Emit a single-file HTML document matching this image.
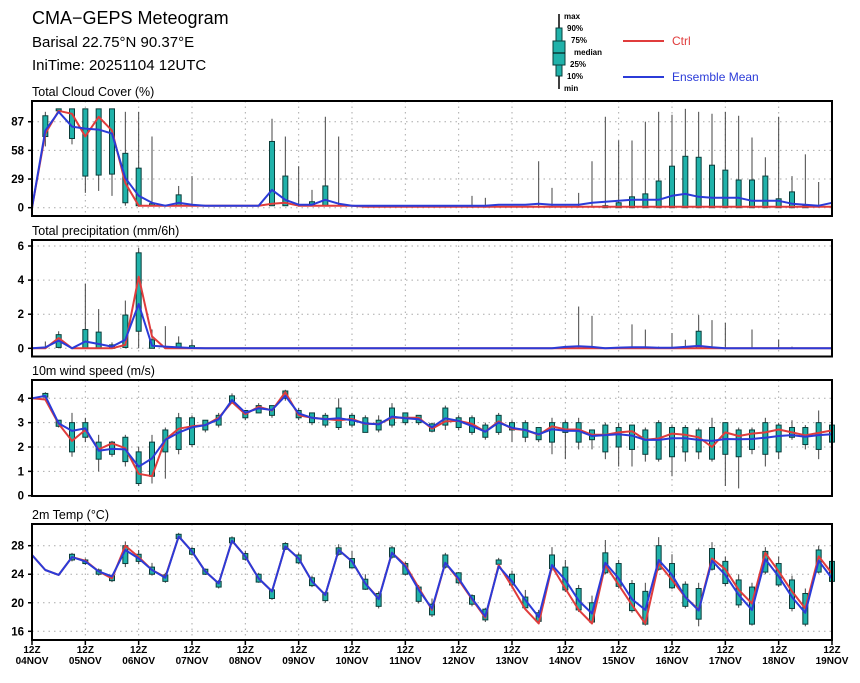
<!DOCTYPE html>
<html><head><meta charset="utf-8">
<style>
html,body{margin:0;padding:0;background:#fff;}
body{width:860px;height:678px;overflow:hidden;font-family:"Liberation Sans",sans-serif;}
svg text{font-family:"Liberation Sans",sans-serif;}
</style></head>
<body>
<svg id="chart" width="860" height="678" viewBox="0 0 860 678" xmlns="http://www.w3.org/2000/svg">
  <text x="32" y="24" font-size="18" fill="#000">CMA−GEPS Meteogram</text>
  <text x="32" y="47" font-size="15" fill="#000">Barisal 22.75°N 90.37°E</text>
  <text x="32" y="70" font-size="15" fill="#000">IniTime: 20251104 12UTC</text>
  <g>
    <line x1="559" y1="14" x2="559" y2="89" stroke="#000" stroke-width="1.5"/>
    <rect x="556" y="28" width="6" height="48" fill="#20b2aa" stroke="#0b3d3a"/>
    <rect x="553" y="41" width="12" height="24" fill="#20b2aa" stroke="#0b3d3a"/>
    <line x1="553" y1="53" x2="565" y2="53" stroke="#000"/>
    <g font-size="8" font-weight="bold" fill="#000">
      <text x="564" y="19">max</text><text x="567" y="31">90%</text><text x="571" y="43">75%</text>
      <text x="574" y="55">median</text><text x="570" y="67">25%</text><text x="567" y="79">10%</text><text x="564" y="91">min</text>
    </g>
    <line x1="623" y1="41" x2="664" y2="41" stroke="#e03c3c" stroke-width="2"/>
    <text x="672" y="45" font-size="12" fill="#e03c3c">Ctrl</text>
    <line x1="623" y1="77" x2="664" y2="77" stroke="#2b3bd8" stroke-width="2"/>
    <text x="672" y="81" font-size="12" fill="#2b3bd8">Ensemble Mean</text>
  </g>
</svg>
<script>
// ---- shared time axis ----
const dayLabels = ["04NOV","05NOV","06NOV","07NOV","08NOV","09NOV","10NOV","11NOV","12NOV","13NOV","14NOV","15NOV","16NOV","17NOV","18NOV","19NOV"];
const nSteps = 61; // 6-hourly steps

// ---- cloud cover (%) ----
const cloudTicks = [0,29,58,87];
const cloudCtrl = [0,75,98,95,72,92,78,25,2,2,2,2,2,2,2,2,2,2,4,5,2,2,2,2,2,1,1,1,1,1,1,1,1,1,1,1,1,1,1,1,1,1,1,1,1,1,1,1,1,1,1,1,1,1,1,1,1,1,1,1,1];
const cloudMean = [0,78,97,82,80,79,75,30,12,5,2,5,3,2,2,2,2,2,18,8,3,3,8,4,2,2,2,2,2,2,2,2,2,2,2,3,3,3,4,3,3,3,5,6,7,8,8,8,12,14,11,10,10,10,7,7,7,4,3,2,5];
const cloudMin = [0,62,97,64,15,17,12,2,2,2,2,2,2,2,2,2,2,2,2,2,2,2,2,2,2,2,2,2,2,2,2,2,2,0,0,0,0,0,0,0,0,0,0,0,0,0,0,0,0,0,0,0,0,0,0,0,0,0,0,0,0];
const cloudP25 = [0,72,98,70,32,33,34,5,2,2,2,2,2,2,2,2,2,2,2,2,2,2,2,2,2,2,2,2,2,2,2,2,2,0,0,0,0,0,0,0,0,0,0,0,0,0,0,0,0,0,0,0,0,0,0,0,0,0,0,0,0];
const cloudP75 = [0,93,100,100,100,100,100,55,40,4,2,13,2,2,2,2,2,2,67,32,2,6,22,2,2,2,2,2,2,2,2,2,2,0,0,0,0,0,0,0,0,0,0,2,5,11,14,27,42,52,51,43,38,28,28,32,9,16,2,0,0];
const cloudMax = [0,97,100,100,100,100,100,97,97,72,2,22,32,2,2,2,2,2,90,72,42,18,92,72,2,2,2,2,2,2,2,2,2,12,10,0,0,0,47,20,0,15,47,92,68,68,87,97,94,100,97,95,97,93,71,51,92,32,54,26,3];

// ---- precipitation (mm/6h) ----
const precTicks = [0,2,4,6];
const precCtrl = [0,0,0.6,0,0,0,0,0.2,4.2,0.7,0,0,0,0,0,0,0,0,0,0,0,0,0,0,0,0,0,0,0,0,0,0,0,0,0,0,0,0,0,0,0,0,0,0,0,0,0,0,0,0,0,0,0,0,0,0,0,0,0,0,0];
const precMean = [0,0.05,0.45,0,0.4,0.25,0.1,0.5,2.6,0.15,0.1,0.05,0.02,0,0,0,0,0,0,0,0,0,0,0,0,0,0,0,0,0,0,0,0,0,0,0,0,0,0,0,0.08,0.12,0.08,0,0.04,0.06,0.06,0.03,0.03,0.08,0.14,0.06,0,0,0,0,0,0,0,0,0];
const precMin = [0,0,0,0,0,0,0,0,0,0,0,0,0,0,0,0,0,0,0,0,0,0,0,0,0,0,0,0,0,0,0,0,0,0,0,0,0,0,0,0,0,0,0,0,0,0,0,0,0,0,0,0,0,0,0,0,0,0,0,0,0];
const precP25 = [0,0,0.05,0,0,0,0,0.05,1.0,0,0,0,0,0,0,0,0,0,0,0,0,0,0,0,0,0,0,0,0,0,0,0,0,0,0,0,0,0,0,0,0,0,0,0,0,0,0,0,0,0,0,0,0,0,0,0,0,0,0,0,0];
const precP75 = [0,0,0.8,0,1.1,0.95,0.2,1.95,5.6,0.5,0,0.3,0.15,0,0,0,0,0,0,0,0,0,0,0,0,0,0,0,0,0,0,0,0,0,0,0,0,0,0,0,0,0,0,0,0,0,0,0,0,0,1.0,0,0,0,0,0,0,0,0,0,0];
const precMax = [0,0.4,1.0,0,3.8,2.3,0.35,2.8,5.9,1.1,1.3,0.7,0.5,0,0,0,0,0,0,0,0,0,0,0,0,0,0,0,0,0,0,0,0,0,0,0,0,0,0,0,0,2.45,1.9,0,0,1.4,1.1,0.1,0.9,0.5,1.95,1.65,1.5,0,1.1,0,0.5,0.1,0,0,0];

// ---- 10m wind speed (m/s) ----
const windTicks = [0,1,2,3,4];
const windCtrl = [4.0,3.95,2.95,2.25,2.7,1.9,2.15,1.95,0.9,0.8,2.3,2.75,2.85,2.9,3.2,3.85,3.35,3.65,3.5,4.25,3.3,3.2,3.15,3.1,3.15,2.95,2.95,3.2,3.2,3.2,2.75,3.05,3.07,2.95,2.63,3.05,2.75,2.7,2.5,2.85,2.72,2.72,2.5,2.5,2.6,2.65,2.3,2.35,2.55,2.5,2.4,2.0,2.6,2.45,2.55,2.6,2.72,2.6,2.48,2.58,2.68];
const windMean = [4.0,4.1,2.97,2.66,2.77,1.85,1.92,1.9,1.19,1.53,2.29,2.59,2.81,2.9,3.14,3.93,3.41,3.59,3.52,4.1,3.38,3.2,3.14,3.18,3.1,2.97,2.93,3.25,3.18,3.14,2.81,3.18,3.07,2.86,2.63,3.0,2.79,2.7,2.52,2.73,2.67,2.66,2.45,2.49,2.52,2.47,2.29,2.29,2.36,2.36,2.29,2.25,2.33,2.32,2.33,2.38,2.45,2.49,2.42,2.49,2.52];
const windMin = [4.0,4.0,2.8,1.6,2.2,1.0,1.6,1.2,0.4,0.5,0.7,1.7,2.0,2.6,2.8,3.8,3.1,3.4,3.2,3.9,3.1,2.9,2.8,2.7,2.8,2.6,2.6,2.8,2.9,2.9,2.6,2.7,2.7,2.5,2.3,2.5,2.2,2.2,2.2,1.7,1.5,1.9,1.9,1.5,1.2,1.2,1.4,1.4,0.8,1.4,1.5,1.4,0.4,0.3,1.7,1.2,1.5,2.3,1.9,1.5,2.0];
const windP25 = [4.0,4.05,2.85,1.8,2.4,1.5,1.7,1.4,0.5,0.8,1.8,1.9,2.1,2.7,2.9,3.8,3.2,3.4,3.3,4.0,3.2,3.0,2.9,2.8,2.9,2.6,2.7,2.9,3.0,3.0,2.65,2.9,2.8,2.6,2.4,2.6,2.7,2.4,2.3,2.2,2.6,2.2,2.3,1.8,2.0,1.9,1.7,1.5,1.6,1.8,1.8,1.5,1.7,1.6,1.9,1.7,1.8,2.4,2.1,1.9,2.2];
const windP75 = [4.0,4.2,3.1,3.0,3.0,2.2,2.2,2.4,1.8,2.2,2.7,3.2,3.2,3.1,3.3,4.1,3.5,3.7,3.7,4.3,3.5,3.4,3.3,3.6,3.3,3.2,3.1,3.6,3.4,3.3,2.95,3.6,3.2,3.2,2.9,3.3,3.0,3.0,2.8,3.0,3.0,3.0,2.7,2.9,2.8,2.9,2.7,3.0,2.8,2.8,2.7,2.8,3.0,2.7,2.7,3.0,2.9,2.8,2.8,3.0,2.9];
const windMax = [4.0,4.25,3.1,3.4,3.2,2.5,2.25,2.5,2.0,2.5,2.8,3.4,3.3,3.1,3.4,4.2,3.5,3.8,3.7,4.35,3.6,3.4,3.4,4.0,3.4,3.3,3.3,3.8,3.4,3.3,3.0,3.7,3.3,3.3,3.0,3.4,3.1,3.1,2.8,3.2,3.1,3.2,2.7,3.0,3.0,2.9,2.8,3.1,2.9,2.9,2.8,3.2,3.0,2.8,2.8,3.2,3.0,3.1,2.9,3.5,2.9];

// ---- 2m temperature (°C) ----
const tempTicks = [16,20,24,28];
const tempCtrl = [26.7,24.6,23.9,26.4,25.9,24.4,23.4,28.0,26.4,24.6,23.6,29.3,27.2,24.4,22.7,28.7,26.5,23.4,21.6,27.9,26.2,23.0,21.1,27.4,25.8,22.7,20.6,27.0,25.3,22.1,19.0,25.6,23.2,20.5,17.9,25.3,22.3,19.1,17.1,25.1,22.0,19.0,17.1,25.3,22.5,19.7,17.1,25.5,23.2,20.8,19.0,26.2,24.7,21.8,19.9,27.0,24.4,21.6,19.2,26.5,24.1];
const tempMean = [26.7,24.6,23.9,26.4,25.8,24.4,23.7,27.4,26.2,24.6,23.5,29.3,27.2,24.4,22.7,28.7,26.5,23.4,21.6,27.9,26.2,23.0,21.1,27.4,25.8,22.7,20.5,27.0,25.1,21.8,19.2,25.6,23.4,20.6,18.1,25.1,23.0,20.4,18.0,25.3,23.2,20.3,18.5,25.6,23.4,20.5,19.0,26.0,23.9,20.8,18.9,25.9,23.9,21.1,19.0,26.1,23.7,20.8,18.6,25.9,23.4];
const tempMin = [26.7,24.6,23.9,25.8,25.3,23.8,22.9,25.0,25.4,23.8,22.8,28.9,26.6,23.9,22.0,28.2,25.9,22.8,20.4,27.4,25.4,22.2,20.0,26.6,24.8,21.8,19.2,26.2,23.8,19.9,18.0,24.8,22.6,19.5,17.3,25.2,22.0,19.2,17.1,24.5,21.5,18.7,17.0,24.0,22.0,18.6,16.8,24.5,21.9,19.2,16.7,24.5,22.3,19.3,16.8,24.0,22.2,18.8,16.7,24.1,22.8];
const tempP25 = [26.7,24.6,23.9,26.0,25.5,24.0,23.1,25.5,25.8,24.0,23.0,29.0,26.8,24.0,22.2,28.4,26.1,22.9,20.6,27.5,25.6,22.4,20.3,26.8,24.9,21.9,19.5,26.4,24.0,20.2,18.3,25.0,22.8,19.8,17.6,25.4,22.5,19.3,17.4,24.8,21.8,19.0,17.3,24.2,22.3,18.9,17.0,24.7,22.1,19.5,17.7,24.7,22.7,19.7,17.0,24.3,22.5,19.2,17.0,24.3,23.0];
const tempP75 = [26.7,24.6,23.9,26.8,26.0,24.6,23.8,28.0,26.8,25.0,23.9,29.6,27.6,24.7,23.0,29.1,26.9,24.0,21.8,28.3,26.7,23.5,21.4,27.7,26.2,23.3,21.3,27.7,25.5,22.2,19.8,26.7,24.2,21.0,19.1,26.0,24.0,20.8,18.6,26.7,25.0,22.0,20.0,27.0,25.5,22.7,21.6,28.0,25.5,22.6,22.0,27.6,25.8,23.2,22.2,27.2,25.5,23.2,21.3,27.4,25.8];
const tempMax = [26.7,24.6,23.9,27.0,26.2,24.8,24.0,28.6,27.4,25.6,24.2,29.8,27.8,24.8,23.2,29.3,27.3,24.2,22.0,28.5,27.0,23.8,21.6,28.2,27.3,24.0,21.6,28.0,25.8,22.5,20.6,27.0,24.3,21.2,19.3,26.3,24.5,21.8,19.0,27.8,26.0,22.5,21.0,28.8,26.0,23.2,22.8,29.2,26.8,23.0,22.8,28.5,26.5,24.0,22.8,27.8,26.5,23.8,22.0,28.0,26.2];

const svg = document.getElementById('chart');
const NS = 'http://www.w3.org/2000/svg';
const X0 = 32, X1 = 832;
function xAt(i){ return X0 + (X1 - X0) * i / (nSteps - 1); }
function mk(tag, attrs, parent){
  const e = document.createElementNS(NS, tag);
  for (const k in attrs) e.setAttribute(k, attrs[k]);
  (parent || svg).appendChild(e);
  return e;
}

function drawPanel(p){
  const yAt = v => p.y0 + (v - p.v0) * (p.y1 - p.y0) / (p.v1 - p.v0);
  const g = mk('g', {});
  
  
  const t = mk('text', {x: 32, y: p.top - 5, 'font-size': 12.5, fill: '#000'}, g);
  t.textContent = p.title;
  
  
  // grid
  for (let d = 1; d < 15; d++){
    const x = xAt(d * 4);
    const gl = mk('line', {x1: x, x2: x, y1: p.top, y2: p.bot, stroke: '#aaa', 'stroke-width': 1, 'stroke-dasharray': '1.5,4'}, g);
    
    
  }
  p.ticks.forEach(v => {
    const y = yAt(v);
    const hl = mk('line', {x1: X0, x2: X1, y1: y, y2: y, stroke: '#aaa', 'stroke-width': 1, 'stroke-dasharray': '1.5,4'}, g);
    
    
    mk('line', {x1: X0 - 4, x2: X0, y1: y, y2: y, stroke: '#000', 'stroke-width': 1.5}, g);
    const lb = mk('text', {x: X0 - 8, y: y + 4, 'font-size': 11.5, 'font-weight': 'bold', 'text-anchor': 'end', fill: '#000'}, g);
    lb.textContent = v;
    
    
  });
  // boxes
  for (let i = 0; i < nSteps; i++){
    const x = xAt(i);
    if (p.max[i] > p.min[i]){
      const w = mk('line', {x1: x, x2: x, y1: yAt(p.max[i]), y2: yAt(p.min[i]), stroke: '#444', 'stroke-width': 1}, g);
      
      
    }
    if (p.p75[i] > p.p25[i]){
      const yt = yAt(p.p75[i]), yb = yAt(p.p25[i]);
      const b = mk('rect', {x: x - 2.5, y: yt, width: 5, height: Math.max(1, yb - yt), fill: '#20b2aa', stroke: '#0b3d3a', 'stroke-width': 1}, g);
      
      
    }
  }
  // lines
  const mkLine = (arr, col, nm) => {
    const d = arr.map((v, i) => (i ? 'L' : 'M') + xAt(i).toFixed(1) + ',' + yAt(v).toFixed(1)).join('');
    const l = mk('path', {d: d, fill: 'none', stroke: col, 'stroke-width': 2, 'stroke-linejoin': 'round'}, g);
    
    
  };
  mkLine(p.ctrl, '#e03c3c', p.name + '-ctrl-line');
  mkLine(p.mean, '#2b3bd8', p.name + '-mean-line');
  const fr = mk('rect', {x: X0, y: p.top, width: X1 - X0, height: p.bot - p.top, fill: 'none', stroke: '#000', 'stroke-width': 2}, g);
  
  
}

drawPanel({name:'cloud', title:'Total Cloud Cover (%)', top:101, bot:216, v0:0, y0:207.7, v1:87, y1:121.7, ticks:cloudTicks,
  ctrl:cloudCtrl, mean:cloudMean, min:cloudMin, p25:cloudP25, p75:cloudP75, max:cloudMax});
drawPanel({name:'precip', title:'Total precipitation (mm/6h)', top:240, bot:356.5, v0:0, y0:348.3, v1:6, y1:246, ticks:precTicks,
  ctrl:precCtrl, mean:precMean, min:precMin, p25:precP25, p75:precP75, max:precMax});
drawPanel({name:'wind', title:'10m wind speed (m/s)', top:380, bot:496, v0:0, y0:495.7, v1:4, y1:398.3, ticks:windTicks,
  ctrl:windCtrl, mean:windMean, min:windMin, p25:windP25, p75:windP75, max:windMax});
drawPanel({name:'temp', title:'2m Temp (°C)', top:524, bot:640, v0:28, y0:545.7, v1:16, y1:631.3, ticks:tempTicks,
  ctrl:tempCtrl, mean:tempMean, min:tempMin, p25:tempP25, p75:tempP75, max:tempMax});

// x-axis labels
dayLabels.forEach((lab, d) => {
  const x = xAt(d * 4);
  mk('line', {x1: x, x2: x, y1: 640, y2: 645, stroke: '#000', 'stroke-width': 1.5});
  const a = mk('text', {x: x, y: 653, 'font-size': 10, 'font-weight': 'bold', 'text-anchor': 'middle', fill: '#000'});
  a.textContent = '12Z';
  
  
  const b = mk('text', {x: x, y: 664, 'font-size': 10, 'font-weight': 'bold', 'text-anchor': 'middle', fill: '#000'});
  b.textContent = lab;
  
  
});
</script>
</body></html>
